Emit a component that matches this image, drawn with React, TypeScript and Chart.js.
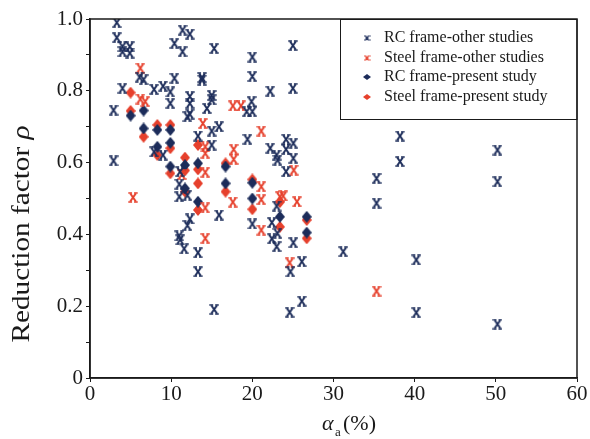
import React, { useEffect, useRef } from 'react';
import { Chart, registerables } from 'chart.js';
Chart.register(...registerables);

const NAVY = '#1c2c5a';
const RED = '#e6402c';
const INK = '#1a1a1a';

const legendLabels = [
  'RC frame-other studies',
  'Steel frame-other studies',
  'RC frame-present study',
  'Steel frame-present study',
];
const xTickValues = [0, 10, 20, 30, 40, 50, 60];
const yTickLabels = ['0', '0.2', '0.4', '0.6', '0.8', '1.0'];

// RC frame - other studies [alpha_a (%), rho]
const rcOther: number[][] = [
  [3.3, 0.99], [3.3, 0.948], [4.0, 0.923], [4.0, 0.909], [4.9, 0.923], [4.9, 0.905],
  [2.9, 0.746], [2.9, 0.605], [4.0, 0.807], [6.1, 0.838], [6.6, 0.831], [7.9, 0.804],
  [9.0, 0.813], [9.9, 0.797], [9.9, 0.765], [10.4, 0.835], [10.4, 0.932], [11.4, 0.969],
  [12.3, 0.958], [11.4, 0.909], [12.3, 0.784], [12.3, 0.765], [12.0, 0.728], [12.3, 0.735],
  [13.8, 0.837], [13.8, 0.83], [15.0, 0.787], [15.0, 0.775], [14.4, 0.751], [15.3, 0.918],
  [15.9, 0.7], [15.0, 0.688], [13.3, 0.674], [15.0, 0.649], [7.9, 0.63], [9.0, 0.621],
  [11.1, 0.575], [20.0, 0.894], [20.0, 0.84], [22.2, 0.799], [25.0, 0.807], [25.0, 0.926],
  [19.9, 0.77], [19.3, 0.742], [20.0, 0.742], [19.4, 0.665], [22.2, 0.64], [24.15, 0.665],
  [25.05, 0.654], [24.15, 0.637], [23.0, 0.621], [23.1, 0.607], [25.05, 0.612], [24.15, 0.575],
  [23.0, 0.479], [20.0, 0.429], [22.4, 0.433], [23.1, 0.403], [22.4, 0.388], [23.0, 0.366],
  [25.05, 0.377], [24.7, 0.296], [26.1, 0.324], [26.1, 0.214], [24.6, 0.183],
  [38.2, 0.674], [38.2, 0.603], [35.3, 0.556], [35.3, 0.487], [50.2, 0.635], [50.2, 0.547],
  [31.2, 0.352], [40.2, 0.329], [40.2, 0.182], [50.2, 0.15],
  [11.0, 0.54], [11.0, 0.505], [12.0, 0.509], [15.9, 0.454], [12.3, 0.443], [12.0, 0.425],
  [11.0, 0.396], [11.1, 0.385], [11.6, 0.36], [13.3, 0.349], [13.3, 0.296], [15.3, 0.191],
];

// Steel frame - other studies
const steelOther: number[][] = [
  [6.2, 0.863], [6.2, 0.777], [6.8, 0.77], [17.6, 0.758], [18.6, 0.758], [13.9, 0.709],
  [21.1, 0.688], [14.2, 0.644], [14.2, 0.626], [17.7, 0.637], [17.7, 0.609], [11.3, 0.567],
  [14.2, 0.573], [25.1, 0.579], [21.1, 0.533], [5.3, 0.503], [17.6, 0.49], [21.1, 0.497],
  [23.4, 0.505], [23.8, 0.507], [25.5, 0.491], [14.2, 0.474], [21.1, 0.412], [14.2, 0.389],
  [24.6, 0.321], [35.3, 0.242],
];

// RC frame - present study
const rcPresent: number[][] = [
  [5.0, 0.731], [6.6, 0.745], [6.6, 0.695], [8.3, 0.691], [9.9, 0.691], [8.3, 0.644],
  [9.9, 0.655], [9.9, 0.589], [11.7, 0.593], [13.3, 0.598], [16.7, 0.589], [11.7, 0.528],
  [16.7, 0.542], [13.3, 0.491], [20.0, 0.544], [20.0, 0.5], [23.4, 0.449], [26.7, 0.449],
  [26.7, 0.405],
];

// Steel frame - present study
const steelPresent: number[][] = [
  [5.0, 0.795], [5.0, 0.744], [6.6, 0.672], [8.3, 0.705], [9.9, 0.705], [8.3, 0.621],
  [9.9, 0.64], [9.9, 0.57], [11.7, 0.614], [11.7, 0.578], [11.7, 0.519], [13.3, 0.649],
  [13.3, 0.581], [13.3, 0.542], [13.3, 0.468], [16.7, 0.598], [16.7, 0.519], [20.0, 0.553],
  [20.0, 0.47], [23.4, 0.49], [23.4, 0.421], [26.7, 0.44], [26.7, 0.389],
];

function makeCross(color: string, w: number, h: number, lw: number) {
  const c = document.createElement('canvas');
  c.width = w; c.height = h;
  const g = c.getContext('2d')!;
  g.strokeStyle = color;
  g.lineWidth = lw;
  g.lineCap = 'butt';
  g.beginPath();
  g.moveTo(2.2, 1.5); g.lineTo(w - 2.2, h - 1.5);
  g.moveTo(w - 2.2, 1.5); g.lineTo(2.2, h - 1.5);
  g.stroke();
  g.lineWidth = lw * 0.8;
  g.beginPath();
  g.moveTo(0.3, 1); g.lineTo(w * 0.4, 1);
  g.moveTo(w * 0.6, 1); g.lineTo(w - 0.3, 1);
  g.moveTo(0.3, h - 1); g.lineTo(w * 0.4, h - 1);
  g.moveTo(w * 0.6, h - 1); g.lineTo(w - 0.3, h - 1);
  g.stroke();
  return c;
}

function makeDiamond(color: string, w: number, h: number) {
  const c = document.createElement('canvas');
  c.width = w; c.height = h;
  const g = c.getContext('2d')!;
  g.fillStyle = color;
  g.beginPath();
  g.moveTo(w / 2, 0); g.lineTo(w, h / 2); g.lineTo(w / 2, h); g.lineTo(0, h / 2);
  g.closePath();
  g.fill();
  return c;
}

const toXY = (arr: number[][]) => arr.map(([x, y]) => ({ x, y }));

export default function App() {
  const ref = useRef<HTMLCanvasElement>(null);
  useEffect(() => {
    const navyX = makeCross(NAVY, 10, 11, 2);
    const redX = makeCross(RED, 10, 11, 2);
    const navyD = makeDiamond(NAVY, 10, 12);
    const redD = makeDiamond(RED, 10, 12);
    const legendIcons = [makeCross(NAVY, 7, 6, 1.5), makeCross(RED, 7, 6, 1.5), makeDiamond(NAVY, 8, 6), makeDiamond(RED, 8, 6)];

    const decor = {
      id: 'decor',
      afterDraw(chart: any) {
        const { ctx, chartArea: a } = chart;
        ctx.save();
        ctx.strokeStyle = INK;
        ctx.lineWidth = 1.5;
        ctx.strokeRect(a.left, a.top, a.right - a.left, a.bottom - a.top);
        // legend box
        const lx = 340, ly = a.top, lw = a.right - 340, lh = 100;
        ctx.lineWidth = 1;
        ctx.strokeRect(lx + 0.5, ly + 0.5, lw - 0.5, lh);
        ctx.font = '16px "Liberation Serif"';
        ctx.fillStyle = INK;
        ctx.textBaseline = 'middle';
        const rows = [38, 58, 77, 97];
        legendLabels.forEach((t, i) => {
          const ic = legendIcons[i];
          ctx.drawImage(ic, 367 - ic.width / 2, rows[i] - ic.height / 2);
          ctx.fillText(t, 384, rows[i]);
        });
        // x title
        ctx.textBaseline = 'alphabetic';
        ctx.font = 'italic 22px "Liberation Serif"';
        ctx.fillText('\u03b1', 322, 430);
        ctx.font = '13px "Liberation Serif"';
        ctx.fillText('a', 335, 436);
        ctx.font = '22px "Liberation Serif"';
        ctx.fillText('(%)', 343, 430);
        // y title
        const fs = 25;
        ctx.translate(29, 234);
        ctx.rotate(-Math.PI / 2);
        ctx.scale(1.17, 1);
        const t1 = 'Reduction factor ';
        ctx.font = `${fs}px "Liberation Serif"`;
        const w1 = ctx.measureText(t1).width;
        ctx.font = `italic ${fs}px "Liberation Serif"`;
        const w2 = ctx.measureText('\u03c1').width;
        const start = -(w1 + w2) / 2;
        ctx.font = `${fs}px "Liberation Serif"`;
        ctx.fillText(t1, start, 0);
        ctx.font = `italic ${fs}px "Liberation Serif"`;
        ctx.fillText('\u03c1', start + w1, 0);
        ctx.restore();
      },
    };

    const chart = new Chart(ref.current!, {
      type: 'scatter',
      data: {
        datasets: [
          { label: legendLabels[0], data: toXY(rcOther), pointStyle: navyX as any, pointRadius: 4 },
          { label: legendLabels[1], data: toXY(steelOther), pointStyle: redX as any, pointRadius: 4 },
          { label: legendLabels[2], data: toXY(rcPresent), pointStyle: navyD as any, pointRadius: 4 },
          { label: legendLabels[3], data: toXY(steelPresent), pointStyle: redD as any, pointRadius: 4 },
        ],
      },
      options: {
        animation: false,
        responsive: false,
        devicePixelRatio: 1,
        layout: { padding: { top: 19, right: 13, left: 0, bottom: 0 } },
        plugins: { legend: { display: false }, tooltip: { enabled: false } },
        scales: {
          x: {
            type: 'linear', min: 0, max: 60,
            afterBuildTicks: (s: any) => { s.ticks = xTickValues.map((v) => ({ value: v })); },
            afterFit: (s: any) => { s.height = 61; },
            ticks: { color: INK, font: { family: '"Liberation Serif"', size: 21 }, padding: 0, maxRotation: 0 },
            grid: { drawOnChartArea: false, tickLength: 4, color: INK, lineWidth: 1 },
            border: { color: INK, width: 1.5 },
          },
          y: {
            type: 'linear', min: 0, max: 1,
            ticks: {
              stepSize: 0.1,
              color: INK,
              font: { family: '"Liberation Serif"', size: 21 },
              padding: 3,
              callback: (v: any) => {
                const k = Math.round(Number(v) * 10);
                return k % 2 === 0 ? yTickLabels[k / 2] : '';
              },
            },
            afterFit: (s: any) => { s.width = 90; },
            grid: { drawOnChartArea: false, tickLength: 4, color: INK, lineWidth: 1 },
            border: { color: INK, width: 1.5 },
          },
        },
      },
      plugins: [decor],
    });
    return () => chart.destroy();
  }, []);
  return (
    <div style={{ position: 'fixed', left: 0, top: 0, width: 590, height: 439, background: '#fff' }}>
      <canvas ref={ref} width={590} height={439} />
    </div>
  );
}
